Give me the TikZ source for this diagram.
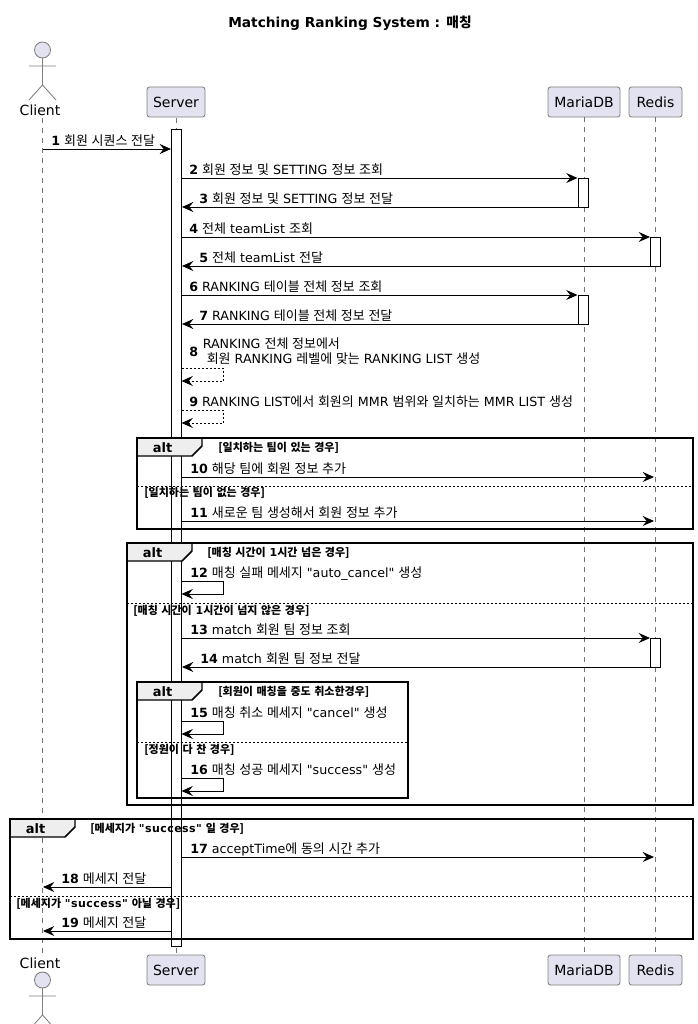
\documentclass[tikz,border=0pt]{standalone}
\usepackage{fontspec}
\setmainfont{DejaVu Sans}
\newfontfamily\djfont{DejaVu Sans}
\newfontfamily\djwide[LetterSpace=4]{DejaVu Sans}
\newfontfamily\krfont[WordSpace=1.42]{Noto Sans CJK KR}
\newfontfamily\krmsg[WordSpace=1.25,Scale=1.026]{Noto Sans CJK KR}
\newcommand{\kr}[1]{{\krmsg #1}}
\newcommand{\kb}[1]{{\krfont\bfseries #1}}
\usetikzlibrary{arrows.meta,shapes.geometric}
\definecolor{partfill}{HTML}{E2E2F0}
\definecolor{linegray}{HTML}{181818}
\definecolor{tabfill}{HTML}{EEEEEE}
\tikzset{
  x=0.75pt,y=-0.75pt,
  msgtext/.style={anchor=base west,inner sep=0pt,font=\djfont\fontsize{9.5pt}{14pt}\selectfont,text=black},
  grouptext/.style={anchor=base west,inner sep=0pt,font=\djfont\fontsize{8.25pt}{10pt}\selectfont\bfseries,text=black},
  headbox/.style={draw=linegray!55,line width=0.65pt,fill=partfill,rounded corners=1.9pt,inner sep=0pt,font=\djfont\fontsize{10.5pt}{12pt}\selectfont,minimum height=22.5pt},
  lifeline/.style={draw=linegray!60,line width=0.5pt,dash pattern=on 3.75pt off 3.75pt},
  actbox/.style={draw=black,line width=0.75pt,fill=white},
  msgline/.style={draw=black,line width=0.75pt,-{Stealth[length=8.5pt,width=7.5pt,inset=3pt]}},
  retline/.style={msgline,dash pattern=on 1.5pt off 1.5pt},
  framebox/.style={draw=black,line width=1.4pt},
  tabshape/.style={draw=black,line width=1.1pt,fill=tabfill},
  sepline/.style={draw=black,line width=0.75pt,dash pattern=on 1.5pt off 1.5pt},
  actorline/.style={draw=linegray!55,line width=0.65pt}
}
% \msg{id}{x1}{x2}{y}{label x}{text}
\newcommand{\msg}[6]{%
  \coordinate (a#1) at (#2,#4); \coordinate (b#1) at (#3,#4);
  \draw[msgline] (a#1) -- (b#1);
  \node[msgtext] (t#1) at (#5,#4-4) {\textbf{#1} #6};}
% \selfm{id}{style}{y1}{y2}{text}
\newcommand{\selfm}[6][189]{%
  \coordinate (a#2) at (181.5,#4); \coordinate (c#2) at (223,#4);
  \coordinate (d#2) at (223,#5); \coordinate (b#2) at (181.5,#5);
  \draw[#3] (a#2) -- (c#2) -- (d#2) -- (b#2);
  \node[msgtext] (t#2) at (#1,#4-4) {\textbf{#2} #6};}
% \altf{id}{x1}{x2}{y1}{y2}{tab right}
\newcommand{\altf}[6]{%
  \coordinate (fa#1) at (#2,#4); \coordinate (fb#1) at (#3,#5);
  \draw[tabshape] (#2,#4) -- (#6,#4) -- (#6,#4+8) -- (#6-10,#4+18) -- (#2,#4+18) -- cycle;
  \draw[framebox] (fa#1) rectangle (fb#1);
  \node[anchor=base,inner sep=0pt,font=\djfont\fontsize{9.75pt}{12pt}\selectfont\bfseries] (alt#1) at ({(#2+#6-10)/2-2},#4+14) {alt};}
\newcommand{\sepf}[4]{\coordinate (sa#1) at (#2,#4); \coordinate (sb#1) at (#3,#4); \draw[sepline] (sa#1) -- (sb#1);}
\begin{document}
\begin{tikzpicture}
\useasboundingbox (0,0) rectangle (698,1024);
\clip (0,0) rectangle (698,1024);
\fill[white] (0,0) rectangle (698,1024);
% title
\node[anchor=base,inner sep=0pt,font=\djfont\fontsize{10.3pt}{12pt}\selectfont\bfseries] (title) at (350,28) {Matching Ranking System : \kb{매칭}};
% heads
\node[headbox,minimum width=43.5pt] (serverT) at (176,102) {Server};
\node[headbox,minimum width=54pt] (mariaT) at (584,102) {MariaDB};
\node[headbox,minimum width=39.75pt] (redisT) at (655.5,102) {Redis};
\node[headbox,minimum width=43.5pt] (serverB) at (176,970) {Server};
\node[headbox,minimum width=54pt] (mariaB) at (584,970) {MariaDB};
\node[headbox,minimum width=39.75pt] (redisB) at (655.5,970) {Redis};
\node[anchor=base,inner sep=0pt,font=\djfont\fontsize{10.5pt}{12pt}\selectfont] (clientT) at (40,115) {Client};
\node[anchor=base,inner sep=0pt,font=\djfont\fontsize{10.5pt}{12pt}\selectfont] (clientB) at (40,968) {Client};
% lifelines
\coordinate (cT) at (42.5,118); \coordinate (cB) at (42.5,953);
\draw[lifeline] (cT) -- (cB);
\draw[lifeline] (176.5,117.5) -- (176.5,955);
\draw[lifeline] (mariaT.south) -- (mariaB.north);
\draw[lifeline] (redisT.south) -- (redisB.north);
% actors
\foreach \n/\d in {T/50,B/980}{
  \draw[actorline,fill=partfill] (42.5,\d) circle (8);
  \draw[actorline] (42.5,\d+8) -- (42.5,\d+35) (29,\d+16) -- (56,\d+16)
     (29,\d+50) -- (42.5,\d+35) -- (56,\d+50);
}
% activations
\draw[actbox] (171.5,129) rectangle (181.5,946);
\draw[actbox] (578,178) rectangle (588,207);
\draw[actbox] (578,295) rectangle (588,324);
\draw[actbox] (650.5,237) rectangle (660.5,266);
\draw[actbox] (650.5,638) rectangle (660.5,667);
% frames
\altf{A}{137}{693}{438}{529}{202}
\altf{B}{127}{693}{543}{805}{192}
\altf{C}{137}{408}{682}{798}{202}
\altf{D}{10}{693}{819}{939}{75}
\sepf{A}{137}{693}{486}
\sepf{B}{127}{693}{603}
\sepf{C}{137}{408}{742}
\sepf{D}{10}{693}{896}
\node[grouptext] (gA1) at (218,451) {\kb{[일치하는 팀이 있는 경우]}};
\node[grouptext] (gA2) at (144,496) {\kb{[일치하는 팀이 없는 경우]}};
\node[grouptext] (gB1) at (207,556) {\kb{[매칭 시간이} 1\kb{시간 넘은 경우]}};
\node[grouptext] (gB2) at (133,614) {\kb{[매칭 시간이} 1\kb{시간이 넘지 않은 경우]}};
\node[grouptext] (gC1) at (218,695) {\kb{[회원이 매칭을 중도 취소한경우]}};
\node[grouptext] (gC2) at (144,753) {\kb{[정원이 다 찬 경우]}};
\node[grouptext] (gD1) at (90,832) {\kb{[메세지가} {\djwide "success"} \kb{일 경우]}};
\node[grouptext] (gD2) at (16,907) {\kb{[메세지가} {\djwide "success"} \kb{아닐 경우]}};
% messages
\msg{1}{42.5}{171}{149}{51}{\kr{회원 시퀀스 전달}}
\msg{2}{181.5}{577.5}{178}{189}{\kr{회원 정보 및} SETTING \kr{정보 조회}}
\msg{3}{578}{182}{207}{199}{\kr{회원 정보 및} SETTING \kr{정보 전달}}
\msg{4}{181.5}{650}{237}{189}{\kr{전체} teamList \kr{조회}}
\msg{5}{650.5}{182}{266}{199}{\kr{전체} teamList \kr{전달}}
\msg{6}{181.5}{577.5}{295}{189}{RANKING \kr{테이블 전체 정보 조회}}
\msg{7}{578}{182}{324}{199}{RANKING \kr{테이블 전체 정보 전달}}
% message 8: two text lines, number centred beside them
\coordinate (a8) at (181.5,368); \coordinate (c8) at (223,368);
\coordinate (d8) at (223,381); \coordinate (b8) at (181.5,381);
\draw[retline] (a8) -- (c8) -- (d8) -- (b8);
\node[msgtext] (t8n) at (189,356.5) {\textbf{8}};
\node[msgtext] (t8a) at (202.5,348) {RANKING \kr{전체 정보에서}};
\node[msgtext] (t8b) at (206.5,363) {\kr{회원} RANKING \kr{레벨에 맞는} RANKING LIST \kr{생성}};
\selfm{9}{retline}{410}{423}{RANKING LIST\kr{에서 회원의} MMR \kr{범위와 일치하는} MMR LIST \kr{생성}}
\msg{10}{181.5}{654}{477}{190}{\kr{해당 팀에 회원 정보 추가}}
\msg{11}{181.5}{654}{521}{190}{\kr{새로운 팀 생성해서 회원 정보 추가}}
\selfm[190]{12}{msgline}{581}{594}{\kr{매칭 실패 메세지} "auto\_cancel" \kr{생성}}
\msg{13}{181.5}{650}{638}{190}{match \kr{회원 팀 정보 조회}}
\msg{14}{650.5}{182}{667}{200}{match \kr{회원 팀 정보 전달}}
\selfm[190]{15}{msgline}{721}{734}{\kr{매칭 취소 메세지} "cancel" \kr{생성}}
\selfm[190]{16}{msgline}{778}{791}{\kr{매칭 성공 메세지} "success" \kr{생성}}
\msg{17}{181.5}{654}{857}{190}{acceptTime\kr{에 동의 시간 추가}}
\msg{18}{171}{43}{887}{61}{\kr{메세지 전달}}
\msg{19}{171}{43}{931}{61}{\kr{메세지 전달}}
\end{tikzpicture}
\end{document}
